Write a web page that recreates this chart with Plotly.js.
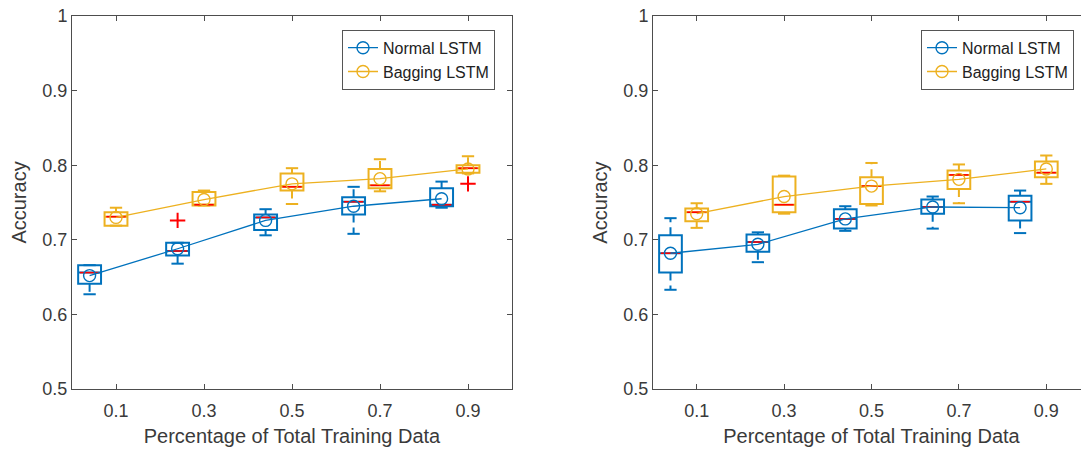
<!DOCTYPE html>
<html>
<head>
<meta charset="utf-8">
<script src="https://cdn.plot.ly/plotly-3.0.1.min.js"></script>
<style>html,body{margin:0;padding:0;overflow:hidden;background:#fff;}#chart{width:1095px;height:450px;}</style>
</head>
<body>
<div id="chart"></div>
<script>
// ---- data ----
var positions = [0.1, 0.3, 0.5, 0.7, 0.9];
var tickLabels = ["0.1", "0.3", "0.5", "0.7", "0.9"];
var normalOffset = -0.06;

// Left panel — Normal LSTM
var L_normal_q1   = [0.641, 0.679, 0.713, 0.734, 0.745];
var L_normal_med  = [0.656, 0.685, 0.730, 0.751, 0.747];
var L_normal_q3   = [0.666, 0.696, 0.734, 0.757, 0.769];
var L_normal_lo   = [0.627, 0.668, 0.706, 0.708, 0.743];
var L_normal_hi   = [0.666, 0.696, 0.741, 0.771, 0.778];
var L_normal_mean = [0.652, 0.688, 0.726, 0.745, 0.755];
var L_normal_outX = [0.3];
var L_normal_outY = [0.726];
// Left panel — Bagging LSTM
var L_bag_q1   = [0.719, 0.746, 0.766, 0.769, 0.790];
var L_bag_med  = [0.731, 0.747, 0.771, 0.773, 0.796];
var L_bag_q3   = [0.737, 0.764, 0.789, 0.795, 0.800];
var L_bag_lo   = [0.719, 0.746, 0.748, 0.765, 0.789];
var L_bag_hi   = [0.743, 0.766, 0.796, 0.808, 0.812];
var L_bag_mean = [0.730, 0.754, 0.775, 0.782, 0.795];
var L_bag_outX = [0.9];
var L_bag_outY = [0.775];

// Right panel — Normal LSTM
var R_normal_q1   = [0.656, 0.684, 0.715, 0.735, 0.726];
var R_normal_med  = [0.682, 0.697, 0.728, 0.744, 0.751];
var R_normal_q3   = [0.706, 0.707, 0.741, 0.754, 0.759];
var R_normal_lo   = [0.633, 0.670, 0.712, 0.715, 0.709];
var R_normal_hi   = [0.729, 0.710, 0.745, 0.758, 0.766];
var R_normal_mean = [0.682, 0.694, 0.728, 0.744, 0.743];
// Right panel — Bagging LSTM
var R_bag_q1   = [0.725, 0.737, 0.748, 0.768, 0.784];
var R_bag_med  = [0.737, 0.747, 0.772, 0.787, 0.790];
var R_bag_q3   = [0.742, 0.785, 0.784, 0.793, 0.805];
var R_bag_lo   = [0.716, 0.735, 0.746, 0.749, 0.775];
var R_bag_hi   = [0.749, 0.786, 0.803, 0.801, 0.813];
var R_bag_mean = [0.735, 0.758, 0.772, 0.781, 0.795];

// ---- styles ----
var BLUE = "#0072BD", YELLOW = "#EDB120", RED = "#FF0000";
var BOXW = 0.052, CAPW = 0.028;
var FONT = "Liberation Sans, Arial, Helvetica, sans-serif";

function shift(arr, d) { return arr.map(function (v) { return +(v + d).toFixed(4); }); }

function hsegs(xs, ys, half) {
  var X = [], Y = [];
  for (var i = 0; i < xs.length; i++) { X.push(xs[i] - half, xs[i] + half, null); Y.push(ys[i], ys[i], null); }
  return {x: X, y: Y};
}
function vsegs(xs, from, to) {
  var X = [], Y = [];
  for (var i = 0; i < xs.length; i++) { if (from[i] !== to[i]) { X.push(xs[i], xs[i], null); Y.push(from[i], to[i], null); } }
  return {x: X, y: Y};
}

function group(xs, q1, med, q3, lo, hi, mean, color, name, xa, ya, legend, outX, outY) {
  var tr = [];
  tr.push({type: "box", x: xs, q1: q1, median: med, q3: q3, lowerfence: q1, upperfence: q3,
    width: BOXW, whiskerwidth: 0, boxpoints: false, fillcolor: "rgba(0,0,0,0)",
    line: {color: color, width: 2}, showlegend: false, hoverinfo: "skip", xaxis: xa, yaxis: ya});
  var wl = vsegs(xs, q1, lo), wh = vsegs(xs, q3, hi);
  tr.push({type: "scatter", mode: "lines", x: wl.x.concat(wh.x), y: wl.y.concat(wh.y),
    line: {color: color, width: 2, dash: "8px,5px"}, showlegend: false, hoverinfo: "skip", xaxis: xa, yaxis: ya});
  var cl = hsegs(xs, lo, CAPW / 2), ch = hsegs(xs, hi, CAPW / 2);
  tr.push({type: "scatter", mode: "lines", x: cl.x.concat(ch.x), y: cl.y.concat(ch.y),
    line: {color: color, width: 2}, showlegend: false, hoverinfo: "skip", xaxis: xa, yaxis: ya});
  var md = hsegs(xs, med, BOXW / 2 - 0.004);
  tr.push({type: "scatter", mode: "lines", x: md.x, y: md.y,
    line: {color: RED, width: 1.6}, showlegend: false, hoverinfo: "skip", xaxis: xa, yaxis: ya});
  if (outX) {
    tr.push({type: "scatter", mode: "markers", x: outX, y: outY,
      marker: {symbol: "cross-thin", size: 11, line: {color: RED, width: 2}},
      showlegend: false, hoverinfo: "skip", xaxis: xa, yaxis: ya});
  }
  tr.push({type: "scatter", mode: "lines+markers", x: xs, y: mean, name: name,
    line: {color: color, width: 1.3},
    marker: {symbol: "circle-open", size: 12, color: color, line: {width: 1.4, color: color}},
    xaxis: xa, yaxis: ya, legend: legend});
  return tr;
}

var xsN = shift(positions, normalOffset);
var xsB = positions;
var L_normal_outXs = shift(L_normal_outX, normalOffset);

var data = [].concat(
  group(xsN, L_normal_q1, L_normal_med, L_normal_q3, L_normal_lo, L_normal_hi, L_normal_mean, BLUE, "Normal LSTM", "x", "y", "legend", L_normal_outXs, L_normal_outY),
  group(xsB, L_bag_q1, L_bag_med, L_bag_q3, L_bag_lo, L_bag_hi, L_bag_mean, YELLOW, "Bagging LSTM", "x", "y", "legend", L_bag_outX, L_bag_outY),
  group(xsN, R_normal_q1, R_normal_med, R_normal_q3, R_normal_lo, R_normal_hi, R_normal_mean, BLUE, "Normal LSTM", "x2", "y2", "legend2"),
  group(xsB, R_bag_q1, R_bag_med, R_bag_q3, R_bag_lo, R_bag_hi, R_bag_mean, YELLOW, "Bagging LSTM", "x2", "y2", "legend2")
);

var AX = "#4d4d4d", TXT = "#3a3a3a";
function xaxis(domain, anchor) {
  return {domain: domain, anchor: anchor, range: [0, 1], tickvals: positions, ticktext: tickLabels,
    ticks: "inside", ticklen: 5, tickcolor: AX, showline: true, linecolor: AX, linewidth: 1, mirror: "ticks",
    showgrid: false, zeroline: false, automargin: false, ticklabelstandoff: 5,
    tickfont: {family: FONT, size: 18, color: TXT},
    title: {text: "Percentage of Total Training Data", font: {family: FONT, size: 20, color: TXT}, standoff: 9}};
}
function yaxis(anchor) {
  return {anchor: anchor, range: [0.5, 1], tickvals: [0.5, 0.6, 0.7, 0.8, 0.9, 1], ticktext: ["0.5", "0.6", "0.7", "0.8", "0.9", "1"],
    ticks: "inside", ticklen: 5, tickcolor: AX, showline: true, linecolor: AX, linewidth: 1, mirror: "ticks",
    showgrid: false, zeroline: false, automargin: false, tickfont: {family: FONT, size: 18, color: TXT},
    title: {text: "Accuracy", font: {family: FONT, size: 20, color: TXT}, standoff: 10}};
}
function legendCfg(x) {
  return {x: x, y: 0.963, xanchor: "right", yanchor: "top", bgcolor: "#fff", bordercolor: "#555", borderwidth: 1,
    font: {family: FONT, size: 16, color: "#222"}, tracegroupgap: 0, itemwidth: 30};
}

var layout = {
  width: 1095, height: 450,
  margin: {l: 72, r: 5, t: 16, b: 61},
  paper_bgcolor: "#fff", plot_bgcolor: "#fff",
  xaxis: xaxis([0, 440 / 1018], "y"),
  yaxis: yaxis("x"),
  xaxis2: xaxis([581 / 1018, 1], "y2"),
  yaxis2: yaxis("x2"),
  legend: legendCfg(423 / 1018),
  legend2: legendCfg(1002 / 1018),
  showlegend: true
};

Plotly.newPlot("chart", data, layout, {staticPlot: true, displayModeBar: false});
</script>
</body>
</html>
